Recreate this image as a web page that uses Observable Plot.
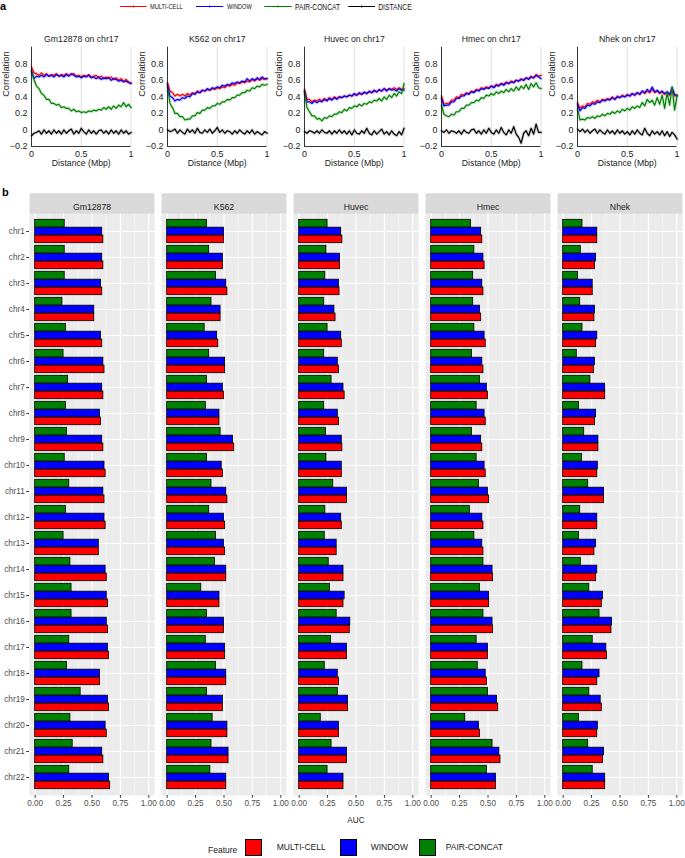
<!DOCTYPE html>
<html><head><meta charset="utf-8">
<script src="https://cdn.jsdelivr.net/npm/d3@7"></script>
<script src="https://cdn.jsdelivr.net/npm/@observablehq/plot@0.6"></script>
<style>
body{margin:0;background:#fff;font-family:"Liberation Sans",Arial,Helvetica,sans-serif;}
#root{position:relative;width:685px;height:858px;overflow:hidden;background:#fff;}
.abs{position:absolute;}
</style></head><body><div id="root"></div>
<script>
// ---------- Panel a data (distance in Mbp, correlation) ----------
const distance = [0,0.025,0.05,0.075,0.1,0.125,0.15,0.175,0.2,0.225, 0.25,0.275,0.3,0.325,0.35,0.375,0.4,0.425,0.45,0.475, 0.5,0.525,0.55,0.575,0.6,0.625,0.65,0.675,0.7,0.725, 0.75,0.775,0.8,0.825,0.85,0.875,0.9,0.925,0.95,0.975, 1];
const lineFeatures = ["MULTI-CELL","WINDOW","PAIR-CONCAT","DISTANCE"];
const lineColors = ["#FF0000","#0000FF","#008000","#000000"];
const panelTitles = ["Gm12878 on chr17","K562 on chr17","Huvec on chr17","Hmec on chr17","Nhek on chr17"];

const gmMulti  = [0.76,0.69,0.68,0.66,0.69,0.66,0.68,0.65,0.67,0.66, 0.68,0.65,0.67,0.66,0.68,0.66,0.67,0.68,0.65,0.66, 0.64,0.66,0.65,0.67,0.64,0.65,0.66,0.63,0.65,0.62, 0.64,0.63,0.64,0.61,0.63,0.60,0.62,0.59,0.61,0.58, 0.57];
const gmWindow = [0.72,0.62,0.65,0.64,0.66,0.64,0.67,0.65,0.66,0.64, 0.67,0.65,0.66,0.64,0.67,0.65,0.68,0.66,0.64,0.65, 0.63,0.65,0.64,0.66,0.63,0.64,0.62,0.64,0.61,0.63, 0.62,0.63,0.60,0.62,0.61,0.59,0.60,0.58,0.59,0.57, 0.56];
const gmPair   = [0.70,0.61,0.53,0.50,0.44,0.42,0.37,0.37,0.32,0.32, 0.30,0.31,0.27,0.28,0.26,0.26,0.23,0.25,0.22,0.23, 0.21,0.22,0.21,0.23,0.22,0.24,0.23,0.25,0.24,0.27, 0.25,0.28,0.25,0.29,0.26,0.30,0.28,0.33,0.28,0.31, 0.27];
const gmDist   = [-0.07,-0.04,-0.03,-0.01,-0.05,0.00,-0.04,-0.01,-0.05,0.00, -0.04,-0.01,-0.05,0.00,-0.04,-0.01,0.01,-0.05,-0.01,-0.04, 0.02,-0.02,-0.05,0.00,-0.04,-0.01,-0.05,-0.01,0.00,-0.04, -0.01,-0.05,0.00,-0.04,-0.01,-0.05,0.00,-0.04,-0.01,-0.05, -0.03];

const k5Multi  = [0.57,0.47,0.45,0.41,0.43,0.41,0.43,0.41,0.44,0.42, 0.45,0.44,0.47,0.45,0.48,0.47,0.49,0.48,0.50,0.49, 0.51,0.50,0.52,0.51,0.54,0.53,0.55,0.54,0.57,0.56, 0.58,0.57,0.59,0.58,0.61,0.59,0.62,0.60,0.62,0.61, 0.62];
const k5Window = [0.55,0.41,0.39,0.35,0.37,0.36,0.39,0.38,0.41,0.40, 0.44,0.43,0.46,0.45,0.48,0.47,0.50,0.48,0.51,0.50, 0.52,0.51,0.54,0.53,0.55,0.54,0.57,0.56,0.58,0.57, 0.59,0.58,0.62,0.59,0.62,0.60,0.63,0.61,0.64,0.62, 0.62];
const k5Pair   = [0.52,0.32,0.27,0.20,0.20,0.16,0.16,0.12,0.13,0.13, 0.17,0.17,0.21,0.20,0.24,0.24,0.27,0.26,0.29,0.29, 0.32,0.31,0.34,0.34,0.37,0.36,0.39,0.39,0.42,0.42, 0.45,0.45,0.48,0.47,0.51,0.50,0.53,0.52,0.55,0.54, 0.55];
const k5Dist   = [0.00,-0.02,-0.01,0.01,-0.04,0.00,-0.03,-0.05,0.01,-0.03, 0.00,-0.04,0.02,-0.03,-0.04,0.00,-0.03,0.01,-0.04,-0.01, 0.03,-0.03,0.00,-0.04,-0.01,-0.02,-0.05,-0.01,-0.04,0.00, -0.03,-0.05,-0.01,-0.04,0.00,-0.05,-0.02,-0.04,-0.06,-0.02, -0.04];

const huMulti  = [0.49,0.37,0.37,0.34,0.36,0.35,0.37,0.35,0.38,0.36, 0.39,0.37,0.40,0.38,0.40,0.39,0.41,0.40,0.42,0.41, 0.43,0.42,0.44,0.43,0.45,0.44,0.46,0.45,0.47,0.46, 0.48,0.47,0.50,0.48,0.50,0.49,0.51,0.49,0.51,0.49, 0.50];
const huWindow = [0.47,0.34,0.34,0.32,0.35,0.33,0.35,0.34,0.37,0.35, 0.38,0.36,0.39,0.37,0.40,0.39,0.41,0.40,0.42,0.41, 0.44,0.42,0.45,0.43,0.46,0.44,0.47,0.45,0.48,0.46, 0.49,0.47,0.50,0.47,0.50,0.48,0.49,0.47,0.50,0.48, 0.48];
const huPair   = [0.46,0.27,0.22,0.17,0.17,0.13,0.14,0.11,0.15,0.14, 0.17,0.16,0.19,0.19,0.22,0.21,0.25,0.23,0.27,0.26, 0.29,0.28,0.31,0.29,0.32,0.31,0.34,0.33,0.36,0.35, 0.38,0.35,0.40,0.37,0.42,0.39,0.44,0.41,0.46,0.44, 0.56];
const huDist   = [-0.02,-0.04,-0.01,-0.02,-0.04,-0.01,-0.04,0.00,-0.03,-0.04, -0.01,-0.05,-0.01,-0.04,0.00,-0.04,-0.01,-0.05,-0.01,-0.06, 0.00,-0.04,-0.05,-0.01,-0.04,0.02,-0.04,-0.06,-0.01,-0.05, -0.02,0.01,-0.05,-0.02,-0.06,-0.01,-0.05,-0.07,-0.02,-0.06, 0.02];

const hmMulti  = [0.41,0.31,0.32,0.32,0.36,0.36,0.40,0.39,0.43,0.42, 0.45,0.44,0.47,0.46,0.49,0.48,0.51,0.50,0.52,0.51, 0.53,0.52,0.55,0.54,0.56,0.55,0.58,0.56,0.59,0.58, 0.60,0.59,0.62,0.60,0.63,0.62,0.65,0.63,0.67,0.65, 0.66];
const hmWindow = [0.38,0.29,0.30,0.30,0.34,0.34,0.38,0.38,0.41,0.41, 0.44,0.43,0.46,0.45,0.48,0.47,0.50,0.49,0.51,0.50, 0.53,0.51,0.54,0.53,0.56,0.54,0.57,0.56,0.58,0.57, 0.60,0.59,0.61,0.60,0.63,0.61,0.64,0.63,0.66,0.64, 0.62];
const hmPair   = [0.30,0.19,0.17,0.16,0.19,0.18,0.22,0.22,0.26,0.26, 0.30,0.30,0.33,0.33,0.36,0.35,0.39,0.38,0.42,0.41, 0.44,0.42,0.46,0.44,0.47,0.45,0.49,0.46,0.50,0.47, 0.52,0.48,0.53,0.50,0.55,0.49,0.56,0.52,0.57,0.51, 0.50];
const hmDist   = [-0.01,-0.03,0.00,-0.04,-0.01,-0.02,-0.04,-0.01,-0.05,0.00, -0.03,-0.04,0.00,0.01,-0.04,-0.01,-0.05,0.00,-0.04,0.02, -0.03,-0.05,0.00,-0.04,0.03,-0.03,-0.06,0.00,-0.04,0.04, -0.05,-0.09,-0.16,-0.04,-0.01,-0.07,0.02,-0.05,0.07,-0.03, -0.03];

const nhMulti  = [0.33,0.26,0.29,0.28,0.32,0.31,0.34,0.33,0.36,0.34, 0.37,0.36,0.38,0.37,0.40,0.37,0.41,0.39,0.42,0.40, 0.43,0.41,0.44,0.42,0.45,0.43,0.47,0.44,0.47,0.45, 0.49,0.45,0.47,0.44,0.46,0.43,0.46,0.42,0.48,0.41, 0.42];
const nhWindow = [0.31,0.23,0.27,0.26,0.30,0.29,0.32,0.31,0.34,0.33, 0.36,0.35,0.37,0.36,0.39,0.37,0.40,0.39,0.41,0.40, 0.42,0.41,0.44,0.42,0.45,0.43,0.47,0.45,0.49,0.46, 0.52,0.46,0.48,0.45,0.47,0.44,0.46,0.43,0.51,0.43, 0.41];
const nhPair   = [0.26,0.12,0.13,0.12,0.15,0.14,0.16,0.14,0.17,0.16, 0.19,0.17,0.20,0.19,0.22,0.20,0.23,0.21,0.25,0.23, 0.26,0.24,0.28,0.26,0.29,0.27,0.33,0.29,0.37,0.33, 0.36,0.30,0.39,0.31,0.42,0.26,0.45,0.30,0.52,0.24, 0.42];
const nhDist   = [0.01,-0.02,0.01,-0.03,0.00,-0.04,-0.01,0.01,-0.04,0.00, -0.03,-0.05,0.00,-0.04,-0.01,-0.05,0.00,-0.04,-0.01,-0.05, -0.02,-0.06,-0.01,-0.05,0.00,-0.04,-0.06,0.02,-0.04,-0.07, -0.01,-0.05,-0.02,-0.06,-0.01,-0.07,-0.02,-0.08,-0.03,-0.06, -0.11];

const panelSeries = [
  [gmMulti, gmWindow, gmPair, gmDist],
  [k5Multi, k5Window, k5Pair, k5Dist],
  [huMulti, huWindow, huPair, huDist],
  [hmMulti, hmWindow, hmPair, hmDist],
  [nhMulti, nhWindow, nhPair, nhDist]
];
const corrTicks = [-0.2, 0, 0.2, 0.4, 0.6, 0.8];
const distTicks = [0, 0.5, 1];

// ---------- Panel b data (AUC per chromosome) ----------
const cells = ["Gm12878","K562","Huvec","Hmec","Nhek"];
const chromosomes = ["chr1","chr2","chr3","chr4","chr5","chr6","chr7","chr8","chr9","chr10","chr11","chr12","chr13","chr14","chr15","chr16","chr17","chr18","chr19","chr20","chr21","chr22"];
const features = ["MULTI-CELL","WINDOW","PAIR-CONCAT"];
const featureColors = ["#FF0000","#0000FF","#008000"];
const aucTicks = [0, 0.25, 0.5, 0.75, 1];
const aucMinorTicks = [0.125, 0.375, 0.625, 0.875];

const aucGmMulti  = [0.60,0.60,0.59,0.52,0.59,0.61,0.60,0.58,0.60,0.62,0.61,0.62,0.56,0.63,0.64,0.64,0.65,0.57,0.65,0.63,0.60,0.66];
const aucGmWindow = [0.59,0.59,0.58,0.52,0.58,0.60,0.59,0.57,0.59,0.61,0.60,0.61,0.56,0.62,0.63,0.63,0.64,0.57,0.64,0.62,0.59,0.65];
const aucGmPair   = [0.26,0.26,0.26,0.24,0.27,0.25,0.29,0.27,0.28,0.26,0.30,0.27,0.25,0.31,0.32,0.32,0.30,0.28,0.40,0.31,0.33,0.30];
const aucK5Multi  = [0.50,0.49,0.53,0.47,0.45,0.51,0.50,0.46,0.59,0.49,0.53,0.51,0.51,0.52,0.46,0.50,0.51,0.52,0.49,0.53,0.54,0.52];
const aucK5Window = [0.50,0.49,0.52,0.47,0.44,0.51,0.49,0.46,0.58,0.48,0.52,0.50,0.50,0.52,0.46,0.50,0.51,0.52,0.49,0.53,0.54,0.52];
const aucK5Pair   = [0.35,0.37,0.43,0.39,0.33,0.37,0.35,0.34,0.47,0.35,0.39,0.37,0.43,0.42,0.30,0.35,0.34,0.43,0.35,0.40,0.39,0.38];
const aucHuMulti  = [0.38,0.36,0.355,0.32,0.375,0.35,0.40,0.35,0.38,0.375,0.42,0.375,0.33,0.39,0.39,0.445,0.42,0.35,0.43,0.35,0.42,0.39];
const aucHuWindow = [0.37,0.36,0.35,0.31,0.37,0.34,0.39,0.34,0.375,0.375,0.42,0.37,0.33,0.39,0.40,0.45,0.42,0.34,0.43,0.35,0.42,0.39];
const aucHuPair   = [0.25,0.24,0.23,0.22,0.25,0.22,0.285,0.22,0.235,0.24,0.30,0.23,0.225,0.26,0.27,0.33,0.28,0.225,0.34,0.19,0.285,0.25];
const aucHmMulti  = [0.45,0.47,0.46,0.44,0.48,0.46,0.50,0.48,0.45,0.48,0.51,0.46,0.46,0.545,0.51,0.545,0.50,0.49,0.59,0.43,0.61,0.57];
const aucHmWindow = [0.44,0.46,0.45,0.43,0.47,0.45,0.49,0.47,0.44,0.47,0.50,0.45,0.45,0.54,0.51,0.54,0.50,0.48,0.58,0.42,0.60,0.57];
const aucHmPair   = [0.35,0.38,0.37,0.37,0.38,0.36,0.43,0.40,0.36,0.40,0.42,0.34,0.38,0.46,0.43,0.46,0.40,0.41,0.50,0.30,0.54,0.49];
const aucNhMulti  = [0.30,0.28,0.26,0.275,0.29,0.27,0.37,0.28,0.31,0.30,0.36,0.30,0.275,0.29,0.34,0.425,0.385,0.30,0.34,0.30,0.35,0.37];
const aucNhWindow = [0.30,0.29,0.26,0.28,0.30,0.28,0.37,0.29,0.31,0.305,0.36,0.30,0.29,0.30,0.35,0.43,0.38,0.32,0.33,0.305,0.36,0.37];
const aucNhPair   = [0.17,0.155,0.13,0.15,0.17,0.12,0.24,0.14,0.185,0.165,0.22,0.15,0.14,0.155,0.23,0.32,0.26,0.17,0.23,0.14,0.22,0.26];

const aucByCell = [
  [aucGmMulti, aucGmWindow, aucGmPair],
  [aucK5Multi, aucK5Window, aucK5Pair],
  [aucHuMulti, aucHuWindow, aucHuPair],
  [aucHmMulti, aucHmWindow, aucHmPair],
  [aucNhMulti, aucNhWindow, aucNhPair]
];

// ---------- layout ----------
const root = document.getElementById("root");
const FONT = '"Liberation Sans", Arial, Helvetica, sans-serif';
function place(el, left, top) {
  const d = document.createElement("div");
  d.className = "abs"; d.style.left = left + "px"; d.style.top = top + "px";
  d.appendChild(el); root.appendChild(d); return d;
}
function label(text, left, top, css) {
  const d = document.createElement("div");
  d.className = "abs"; d.textContent = text;
  d.style.left = left + "px"; d.style.top = top + "px";
  d.style.whiteSpace = "nowrap";
  Object.assign(d.style, css || {});
  root.appendChild(d); return d;
}

// panel letters
label("a", 0, 0, {fontWeight: "bold", fontSize: "11px", lineHeight: "12px", color: "#000"});
label("b", 2, 186, {fontWeight: "bold", fontSize: "11px", lineHeight: "12px", color: "#000"});

// top legend (inline SVG, real text)
(function () {
  const ns = "http://www.w3.org/2000/svg";
  const svg = document.createElementNS(ns, "svg");
  svg.setAttribute("width", 685); svg.setAttribute("height", 14);
  const items = [
    {x1: 120, x2: 146.7, tx: 150, fs: 6.6, tl: 32.7},
    {x1: 196, x2: 223.3, tx: 227, fs: 6.6, tl: 24.7},
    {x1: 264.3, x2: 291.7, tx: 295, fs: 8.3, tl: 45},
    {x1: 348.3, x2: 375, tx: 378.3, fs: 8.3, tl: 33.3}
  ];
  items.forEach((it, k) => {
    const ln = document.createElementNS(ns, "line");
    ln.setAttribute("x1", it.x1); ln.setAttribute("x2", it.x2);
    ln.setAttribute("y1", 6.5); ln.setAttribute("y2", 6.5);
    ln.setAttribute("stroke", lineColors[k]); ln.setAttribute("stroke-width", 1);
    svg.appendChild(ln);
    const tk = document.createElementNS(ns, "line");
    const mx = (it.x1 + it.x2) / 2;
    tk.setAttribute("x1", mx); tk.setAttribute("x2", mx);
    tk.setAttribute("y1", 5.3); tk.setAttribute("y2", 7.7);
    tk.setAttribute("stroke", lineColors[k]); tk.setAttribute("stroke-width", 0.8);
    svg.appendChild(tk);
    const t = document.createElementNS(ns, "text");
    t.setAttribute("x", it.tx); t.setAttribute("y", 6.5);
    t.setAttribute("dominant-baseline", "central");
    t.setAttribute("font-size", it.fs);
    t.setAttribute("font-family", FONT);
    t.setAttribute("fill", "#111");
    t.setAttribute("textLength", it.tl);
    t.setAttribute("lengthAdjust", "spacingAndGlyphs");
    t.textContent = lineFeatures[k];
    svg.appendChild(t);
  });
  place(svg, 0, 0);
})();

// ---------- panel a: five line charts ----------
const frameLeft0 = 30.7, frameStep = 136.65;
panelSeries.forEach((series, p) => {
  const data = [];
  series.forEach((vals, k) => vals.forEach((v, i) => data.push({distance: distance[i], corr: v, feature: lineFeatures[k]})));
  const marks = [
    Plot.ruleX([0.5, 1], {stroke: "#D8D8D8", strokeWidth: 0.8})
  ];
  lineFeatures.forEach((f, k) => {
    const sub = data.filter(d => d.feature === f);
    marks.push(Plot.line(sub, {x: "distance", y: "corr", stroke: lineColors[k], strokeWidth: 3.2, strokeOpacity: 0.18}));
  });
  lineFeatures.forEach((f, k) => {
    const sub = data.filter(d => d.feature === f);
    marks.push(Plot.line(sub, {x: "distance", y: "corr", stroke: lineColors[k], strokeWidth: 1.2}));
  });
  marks.push(
    Plot.ruleX([0], {stroke: "#000", strokeWidth: 0.8}),
    Plot.ruleY([-0.2], {stroke: "#000", strokeWidth: 0.8}),
    Plot.axisX(distTicks, {tickSize: 0, tickPadding: 4, tickFormat: d3.format("~g"), label: null, fontSize: 9, fill: "#222"}),
    Plot.axisY(corrTicks, {tickSize: 0, tickPadding: 4, tickFormat: d3.format("~g"), label: null, fontSize: 9, fill: "#222"}),
    Plot.text([panelTitles[p]], {text: d => d, frameAnchor: "top", dy: -11.7, fontSize: 8.7, fill: "#222"}),
    Plot.text(["Distance (Mbp)"], {text: d => d, frameAnchor: "bottom", dy: 20, fontSize: 8.7, fill: "#222"}),
    Plot.text(["Correlation"], {text: d => d, frameAnchor: "left", dx: -25.5, rotate: -90, fontSize: 9.3, fill: "#222"})
  );
  const chart = Plot.plot({
    width: 136.3, height: 150,
    marginLeft: 30, marginRight: 6.7, marginTop: 26.7, marginBottom: 24,
    x: {domain: [0, 1]},
    y: {domain: [-0.2, 1]},
    style: {fontFamily: FONT, background: "transparent", color: "#222", overflow: "visible"},
    marks
  });
  place(chart, frameLeft0 + p * frameStep - 30, 20);
});

// ---------- panel b: faceted bar chart ----------
const rows = [];
cells.forEach((c, ci) => chromosomes.forEach((chr, j) => features.forEach((f, k) => {
  rows.push({cell: c, chr, feature: f, auc: aucByCell[ci][k][j]});
})));

const B = {top: 170, h: 650, mt: 43.3, mb: 25, ml: 29.3, mr: 2.3};
const facetH = B.h - B.mt - B.mb;
const step = facetH / 22.2;
const barH = 0.3 * step;
const inset = (step - barH) / 2;
const shift = {"PAIR-CONCAT": -barH, "WINDOW": 0, "MULTI-CELL": barH};

const bMarks = [
  Plot.frame({fill: "#EBEBEB", stroke: "none"}),
  Plot.frame({fill: "#D9D9D9", stroke: "none", insetTop: -20.6, insetBottom: facetH}),
  Plot.ruleX(aucMinorTicks, {stroke: "#fff", strokeWidth: 0.5}),
  Plot.ruleX(aucTicks, {stroke: "#fff", strokeWidth: 1.1}),
  Plot.ruleY(chromosomes, {stroke: "#fff", strokeWidth: 1.1})
];
features.forEach((f, k) => {
  bMarks.push(Plot.barX(rows.filter(r => r.feature === f), {
    fx: "cell", y: "chr", x: "auc", fill: featureColors[k], stroke: "#000", strokeWidth: 0.8,
    insetTop: inset, insetBottom: inset, dy: shift[f]
  }));
});
bMarks.push(
  Plot.text(cells, {fx: d => d, text: d => d, frameAnchor: "top", dy: -10.3, fontSize: 8.7, fill: "#1A1A1A"}),
  Plot.axisX(aucTicks, {tickSize: 2.75, tickPadding: 2, tickFormat: d3.format(".2f"), label: null, fontSize: 8.2, stroke: "#333", fill: "#4D4D4D"}),
  Plot.axisY({tickSize: 2.75, tickPadding: 2, label: null, fontSize: 8.2, stroke: "#333", fill: "#4D4D4D"})
);

const barChart = Plot.plot({
  width: 685, height: B.h,
  marginTop: B.mt, marginBottom: B.mb, marginLeft: B.ml, marginRight: B.mr,
  fx: {domain: cells, paddingInner: 0.0507, paddingOuter: 0, axis: null},
  x: {domain: [-0.05, 1.05]},
  y: {domain: chromosomes, paddingInner: 0, paddingOuter: 0.1},
  style: {fontFamily: FONT, background: "transparent", color: "#4D4D4D", overflow: "visible"},
  marks: bMarks
});
place(barChart, 0, B.top);

// axis title
label("AUC", 356, 816, {transform: "translateX(-50%)", fontSize: "8.2px", lineHeight: "10px", color: "#1A1A1A", fontFamily: FONT});

// bottom legend
label("Feature", 208, 845, {fontSize: "8.5px", lineHeight: "10px", color: "#1A1A1A", fontFamily: FONT});
const keyX = [245, 340, 419.3];
const keyTextX = [276.7, 370.7, 445.7];
features.forEach((f, k) => {
  const sw = document.createElement("div");
  sw.className = "abs";
  Object.assign(sw.style, {left: keyX[k] + "px", top: "838.5px", width: "17px", height: "17px",
    background: featureColors[k], border: "0.8px solid #000", boxSizing: "border-box"});
  root.appendChild(sw);
  label(f, keyTextX[k], 842, {fontSize: "8.5px", lineHeight: "10px", color: "#1A1A1A", fontFamily: FONT});
});
</script></body></html>
